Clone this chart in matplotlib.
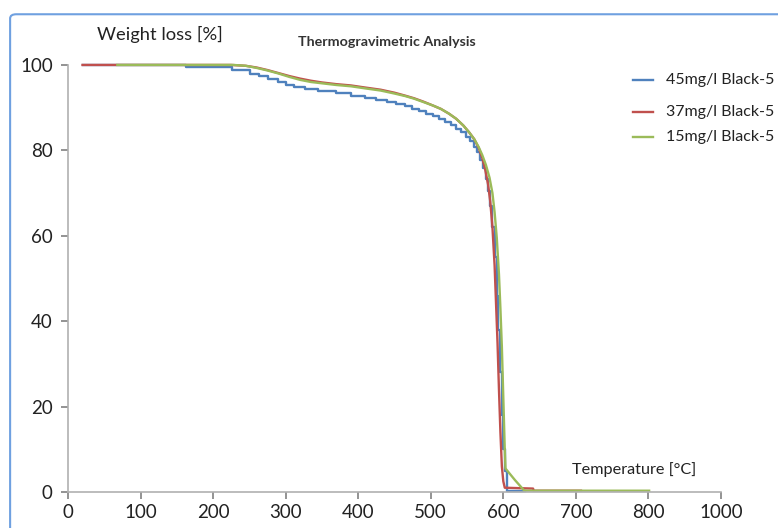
import matplotlib
matplotlib.use("Agg")
import matplotlib.pyplot as plt
from matplotlib.patches import FancyBboxPatch
from matplotlib.lines import Line2D

plt.rcParams['font.family'] = ['Lato', 'DejaVu Sans']

# 45mg/l Black-5 (stepped readings)
temp_45 = [20, 162, 226, 251, 263, 276, 290, 300, 312, 326, 345, 370, 390, 410, 425, 440,
           452, 464, 474, 484, 494, 503, 512, 520, 528, 535, 542, 548, 554, 559, 564, 568,
           572, 576, 579, 582, 585, 588, 591, 593, 596, 598, 600, 602, 605, 630]
wl_45 = [100, 99.5, 98.8, 97.8, 97.3, 96.7, 96.0, 95.4, 94.9, 94.3, 93.9, 93.4, 92.8, 92.3, 91.8, 91.3,
         90.8, 90.3, 89.8, 89.2, 88.6, 88.0, 87.3, 86.6, 85.9, 85.1, 84.2, 83.2, 82.1, 80.9, 79.5, 77.8,
         75.8, 73.2, 70.5, 67.0, 62.0, 55.0, 46.0, 38.0, 28.0, 18.0, 10.0, 5.0, 0.3, 0.3]

# 37mg/l Black-5
temp_37 = [20, 225, 245, 260, 275, 290, 305, 320, 335, 350, 370, 390, 410, 431, 450, 465,
           477, 490, 503, 514, 525, 535, 545, 553, 560, 566, 571, 575, 579, 582, 585, 588,
           590, 592, 594, 596, 598, 600, 602, 641, 642, 707]
wl_37 = [100, 100, 99.8, 99.4, 98.8, 98.1, 97.4, 96.8, 96.3, 95.9, 95.5, 95.2, 94.7, 94.2, 93.5, 92.8,
         92.2, 91.4, 90.5, 89.7, 88.6, 87.4, 85.8, 84.2, 82.6, 80.6, 78.2, 75.5, 72.0, 68.0, 62.0, 53.0,
         44.0, 35.0, 24.0, 14.0, 6.0, 2.5, 1.0, 0.8, 0.3, 0.3]

# 15mg/l Black-5
temp_15 = [68, 228, 245, 260, 275, 290, 305, 320, 335, 350, 370, 390, 410, 431, 450, 465,
           477, 490, 503, 514, 525, 535, 545, 553, 560, 566, 571, 576, 581, 585, 588, 591,
           594, 596, 598, 600, 602, 603, 616, 629, 801]
wl_15 = [100, 100, 99.8, 99.3, 98.7, 98.0, 97.2, 96.5, 96.0, 95.7, 95.3, 95.0, 94.5, 94.0, 93.3, 92.7,
         92.1, 91.3, 90.5, 89.7, 88.6, 87.4, 85.8, 84.2, 82.6, 80.8, 78.9, 76.6, 73.6, 70.0, 65.5, 59.5,
         51.0, 43.0, 34.0, 22.0, 10.0, 5.5, 2.8, 0.3, 0.3]

series_labels = ["45mg/l Black-5", "37mg/l Black-5", "15mg/l Black-5"]
series_colors = ["#4F81BD", "#C0504D", "#9BBB59"]

# category-like axis: 0..800 evenly, last tick labelled 1000
xtick_pos = [0, 100, 200, 300, 400, 500, 600, 700, 800, 900]
xtick_labels = ["0", "100", "200", "300", "400", "500", "600", "700", "800", "1000"]
ytick_pos = [0, 20, 40, 60, 80, 100]

fig = plt.figure(figsize=(7.78, 5.28), dpi=100)
ax = fig.add_axes([0.0874, 0.0682, 0.8393, 0.8088])

ax.plot(temp_45, wl_45, color=series_colors[0], lw=1.7, drawstyle="steps-post", clip_on=False)
ax.plot(temp_37, wl_37, color=series_colors[1], lw=1.7, solid_joinstyle="round", clip_on=False)
ax.plot(temp_15, wl_15, color=series_colors[2], lw=1.7, solid_joinstyle="round", clip_on=False)

ax.set_xlim(0, 900)
ax.set_ylim(0, 100)
ax.set_xticks(xtick_pos)
ax.set_xticklabels(xtick_labels)
ax.set_yticks(ytick_pos)

for s in ["top", "right"]:
    ax.spines[s].set_visible(False)
for s in ["left", "bottom"]:
    ax.spines[s].set_color("#b0b0b0")
    ax.spines[s].set_linewidth(1.2)
ax.tick_params(axis="both", colors="#808080", length=5, width=1.2, labelcolor="#222222",
               labelsize=13.5)
ax.tick_params(axis="y", pad=6)

fig.text(0.125, 0.934, "Weight loss [%]", fontsize=13.2, color="#222222", va="center")
fig.text(0.383, 0.920, "Thermogravimetric Analysis", fontsize=10.3, fontweight="bold",
         color="#333333", va="center")
fig.text(0.735, 0.110, "Temperature [°C]", fontsize=11.7, color="#222222", va="center")

# legend drawn by hand to follow the uneven spacing
leg_y = [0.848, 0.788, 0.741]
for lab, c, y in zip(series_labels, series_colors, leg_y):
    fig.add_artist(Line2D([0.814, 0.839], [y, y], color=c, lw=1.7, transform=fig.transFigure))
    fig.text(0.856, y, lab, fontsize=11.5, color="#222222", va="center")

frame = FancyBboxPatch((0.013, -0.05), 1.05, 1.023, boxstyle="round,pad=0,rounding_size=0.008",
                       transform=fig.transFigure, fill=False, edgecolor="#6FA0E0", lw=1.5,
                       clip_on=False)
fig.add_artist(frame)

fig.savefig("out.png", dpi=100)
